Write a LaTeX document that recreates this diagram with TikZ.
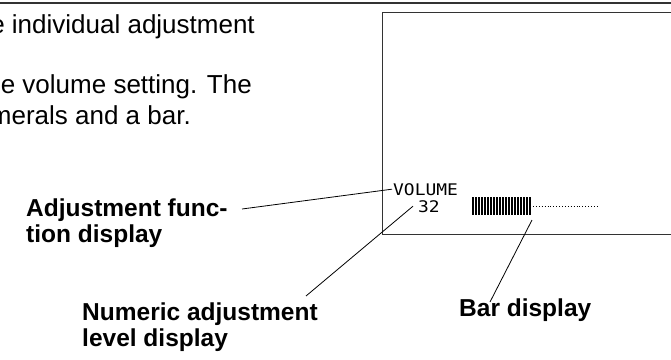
\documentclass[tikz,border=0pt]{standalone}
\usepackage{fontspec}
\setmainfont{Liberation Sans}
\newfontfamily\lcdfont[FakeStretch=1.12]{DejaVu Sans Mono}
\tikzset{
  para/.style={inner sep=0pt, anchor=base east, font=\fontsize{26}{30}\selectfont},
  lbl/.style={inner sep=0pt, anchor=base west, align=left, font=\fontsize{24.5}{26}\selectfont\bfseries},
  lcd/.style={inner sep=0pt, anchor=base west, font=\lcdfont\fontsize{16}{16}\selectfont},
  leader/.style={line width=0.8pt, black},
  frame/.style={line width=0.9pt, black!80},
  barline/.style={line width=1.1pt, black}
}
\begin{document}
\begin{tikzpicture}[x=1pt,y=-1pt]
\useasboundingbox (0,0) rectangle (671,359);
\begin{scope}
\clip (0,0) rectangle (671,359);
% top rule
\draw[line width=1.3pt, black!80] (0,3) -- (671,3);
% screen frame
\draw[frame] (680,12) -- (382,12) -- (382,234) -- (680,234);
% paragraph text (cut at the left)
\node[para] (p1) at (255,33) {the individual adjustment};
\node[para] (p2) at (252,93) {the volume setting. The};
\node[para] (p3) at (191,124) {numerals and a bar.};
% screen contents
\node[lcd] (vol) at (393,195) {VOLUME};
\node[lcd] (num) at (418,212) {32};
\foreach \i in {0,...,19}{
  \draw[barline] ({473+3*\i},197) -- ({473+3*\i},215);
}
\draw[line width=0.9pt, dotted] (533,206) -- (598,206);
% labels (anchored at the baseline of their last line)
\node[lbl] (adj) at (26,242) {Adjustment func-\\tion display};
\node[lbl] (numlbl) at (82,346) {Numeric adjustment\\level display};
\node[lbl] (barlbl) at (459,316) {Bar display};
% leader lines
\coordinate (a1) at (242,209);
\coordinate (n1) at (306,296);
\coordinate (b1) at (490,302);
\coordinate (b2) at (532,220);
\draw[leader] (a1) -- ([xshift=-1pt]vol.west);
\draw[leader] (n1) -- ([xshift=-5pt]num.west);
\draw[leader] (b1) -- (b2);
\end{scope}
\end{tikzpicture}
\end{document}
